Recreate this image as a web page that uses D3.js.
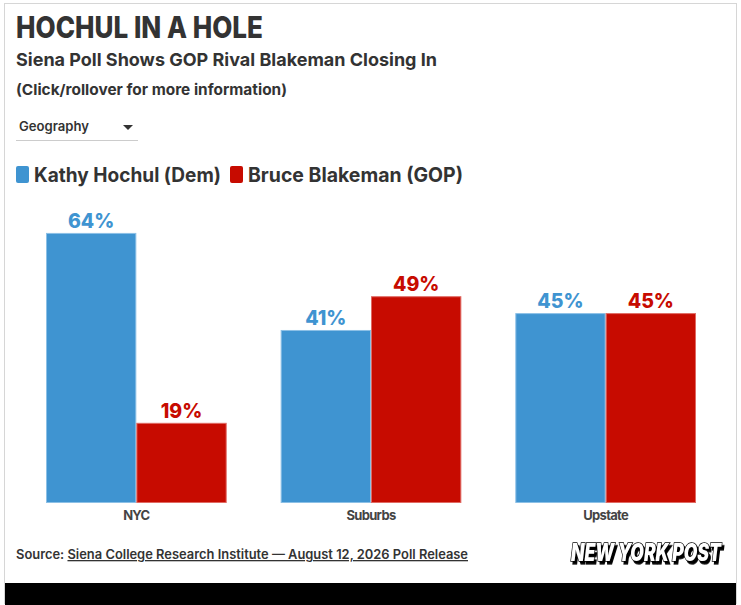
<!DOCTYPE html>
<html><head><meta charset="utf-8">
<script src="https://cdn.jsdelivr.net/npm/d3@7"></script>
<style>
html,body{margin:0;padding:0;background:#fff;}
svg{display:block;}
text{font-family:Inter,"Liberation Sans",Arial,sans-serif;}
</style></head>
<body>
<svg id="c" width="741" height="605">
<defs>
<filter id="sh" x="-10%" y="-40%" width="125%" height="190%">
<feDropShadow dx="2" dy="2" stdDeviation="0" flood-color="#000"/>
</filter>
</defs>
</svg>
<script>
const categories = ["NYC", "Suburbs", "Upstate"];
const seriesNames = ["Kathy Hochul (Dem)", "Bruce Blakeman (GOP)"];
const hochul = [64, 41, 45];
const blakeman = [19, 49, 45];
const colors = ["#3f94d1", "#c70b00"];
const strokes = ["#8cc0e6", "#e06a63"];

const svg = d3.select("#c");
// card
svg.append("rect").attr("x",4.5).attr("y",3.5).attr("width",732).attr("height",600).attr("fill","#fff").attr("stroke","#d6d6d6");
svg.append("rect").attr("x",5).attr("y",583).attr("width",731).attr("height",22).attr("fill","#000");

const dark = "#333";
function txt(x,y,size,w,len,s){
  return svg.append("text").attr("x",x).attr("y",y).attr("font-size",size).attr("font-weight",w).attr("fill",dark)
    .attr("textLength",len).attr("lengthAdjust","spacingAndGlyphs").text(s);
}
txt(16,38,30,800,247,"HOCHUL IN A HOLE");
txt(16,66,18,700,421,"Siena Poll Shows GOP Rival Blakeman Closing In");
txt(16,95,15,700,271,"(Click/rollover for more information)");
// dropdown
txt(19,131,13,600,70,"Geography");
svg.append("path").attr("d","M123,125 L133,125 L128,130 Z").attr("fill",dark);
svg.append("line").attr("x1",16).attr("x2",138).attr("y1",140.5).attr("y2",140.5).attr("stroke","#ccc");

// legend
const legX = [16, 230];
const legLen = [187, 215];
seriesNames.forEach((n,i)=>{
  svg.append("rect").attr("x",legX[i]).attr("y",166).attr("width",13).attr("height",17).attr("rx",2).attr("fill",colors[i]);
  txt(legX[i]+18,182,20,700,legLen[i],n);
});

// chart
const y = d3.scaleLinear().domain([0,100]).range([503, 81]);
const x0 = d3.scaleBand().domain(categories).range([46,696]).paddingInner(0.23).paddingOuter(0);
const x1 = d3.scaleBand().domain([0,1]).range([0,x0.bandwidth()]);
const data = categories.map((c,i)=>({cat:c, vals:[hochul[i], blakeman[i]]}));

const g = svg.append("g");
const groups = g.selectAll("g.grp").data(data).join("g").attr("transform",d=>`translate(${x0(d.cat)},0)`);
groups.selectAll("rect").data(d=>d.vals.map((v,i)=>({v,i}))).join("rect")
  .attr("x",d=>x1(d.i)+0.5).attr("width",x1.bandwidth()-1)
  .attr("y",d=>y(d.v)+0.5).attr("height",d=>y(0)-y(d.v)-1)
  .attr("fill",d=>colors[d.i]).attr("stroke",d=>strokes[d.i]).attr("stroke-width",1);
groups.selectAll("text.val").data(d=>d.vals.map((v,i)=>({v,i}))).join("text").attr("class","val")
  .attr("x",d=>x1(d.i)+x1.bandwidth()/2).attr("y",d=>y(d.v)-5)
  .attr("text-anchor","middle").attr("font-size",19.5).attr("font-weight",800).attr("fill",d=>colors[d.i])
  .text(d=>d.v+"%");

const xAxis = d3.axisBottom(x0).tickSize(0).tickPadding(8);
const ax = svg.append("g").attr("transform",`translate(0,${y(0)})`).call(xAxis);
ax.select(".domain").remove();
ax.selectAll("text").attr("font-size",13).attr("font-weight",700).attr("fill","#444").attr("letter-spacing",-0.7)
  .attr("font-family","Inter,'Liberation Sans',Arial,sans-serif");

// source
const src = svg.append("text").attr("x",16).attr("y",559).attr("font-size",13).attr("font-weight",600).attr("fill",dark)
  .attr("textLength",452).attr("lengthAdjust","spacingAndGlyphs");
src.append("tspan").text("Source: ");
src.append("tspan").attr("text-decoration","underline").text("Siena College Research Institute — August 12, 2026 Poll Release");

// logo
svg.append("g").attr("transform","translate(571,561) scale(1,1.4)")
  .append("text").attr("x",0).attr("y",0).attr("font-size",17).attr("font-weight",900).attr("font-style","italic")
  .attr("font-family","'Liberation Sans',Arial,sans-serif")
  .attr("textLength",150).attr("lengthAdjust","spacingAndGlyphs")
  .attr("fill","#fff").attr("stroke","#000").attr("stroke-width",1.2).attr("paint-order","stroke")
  .attr("filter","url(#sh)").text("NEW YORK POST");
</script>
</body></html>
